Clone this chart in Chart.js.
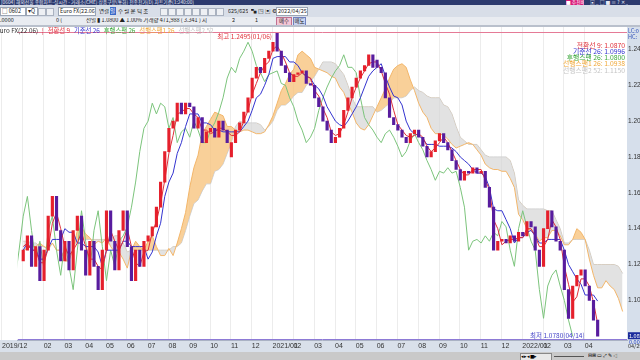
<!DOCTYPE html>
<html>
<head>
<meta charset="utf-8">
<script src="https://cdn.jsdelivr.net/npm/chart.js@4.4.0/dist/chart.umd.min.js"></script>
<style>
  html, body { margin: 0; padding: 0; background: #fff; }
  body { width: 640px; height: 360px; overflow: hidden; position: relative; font-family: 'Noto Sans CJK KR', 'Liberation Sans', sans-serif; }
  #chart { position: absolute; left: 0; top: 0; }
  .row { position: absolute; left: 0; width: 640px; overflow: hidden; white-space: nowrap; font-size: 5.5px; line-height: 1; }
  .row span { position: absolute; overflow: hidden; }
  #hdr1 { top: 0; height: 5px; background: #2c3a6e; color: #e6eaf6; font-size: 4.8px; }
  #hdr2 { top: 5px; height: 12px; background: #d8dee8; color: #222; }
  #hdr3 { top: 17px; height: 8px; background: #e9ecf1; color: #222; }
  #hdr4 { top: 25px; height: 2px; background: #b9c0cc; }
  #foot { top: 352px; height: 8px; background: #c9c9c9; }
  .box { background: #fff; border: 1px solid #9aa4b4; height: 7px; top: 2px; line-height: 7px; padding: 0 1px; }
  .btn { background: #eef0f4; border: 1px solid #aab2c0; height: 6px; top: 3px; width: 6px; }
</style>
</head>
<body>
<canvas id="chart" width="640" height="360"></canvas>

<div class="row" id="hdr1">
  <span style="left:1px;top:0">[0604] 해외선물 종합차트-실시간 - 거래소(CME) 상품구분(통화) 전종전가(D) 차트기준(1:240:00)</span>
  <span style="left:566px;top:0;width:18px;height:5px;background:#d81b7a;color:#fff">■ 추천배치</span>
  <span style="left:590px;top:0">▣ _ □ ■ ≡ ? ✕ _</span>
</div>
<div class="row" id="hdr2">
  <span class="box" style="left:0;width:22px">□ 0602</span>
  <span class="box" style="left:26px;width:8px">▾Q</span>
  <span class="btn" style="left:38px"></span>
  <span class="btn" style="left:46px"></span>
  <span class="box" style="left:58px;width:34px">Euro FX(22.06)</span>
  <span style="left:99px;top:4px">연결</span>
  <span style="left:110px;top:2px;width:6px;height:8px;background:#3a68c8;color:#fff;line-height:8px">일</span>
  <span style="left:118px;top:4px">주 월 분 틱 초</span>
  <span class="btn" style="left:160px"></span>
  <span class="btn" style="left:168px"></span>
  <span class="btn" style="left:176px"></span>
  <span class="btn" style="left:184px"></span>
  <span class="btn" style="left:192px"></span>
  <span class="btn" style="left:200px"></span>
  <span class="btn" style="left:208px"></span>
  <span class="btn" style="left:216px"></span>
  <span style="left:228px;top:4px">625/625</span>
  <span style="left:251px;top:4px">▚ ◳ ▣ ⚙</span>
  <span class="box" style="left:276px;width:28px">2022/04/25</span>
</div>
<div class="row" id="hdr3">
  <span style="left:0;top:1px">.0000</span>
  <span style="left:56px;top:1px">0 (</span>
  <span style="left:86px;top:1px">전일 ▮ 1.0800 ▲ 1.00% 거래량 471,988 ( 3.341 ) 시</span>
  <span style="left:232px;top:1px">2</span>
  <span style="left:255px;top:1px">1</span>
  <span style="left:276px;top:0;width:14px;height:7px;background:#f4c6d6;border:1px solid #c07090;text-align:center;line-height:7px">매수</span>
  <span style="left:293px;top:0;width:11px;height:7px;background:#c8d4f2;border:1px solid #7080c0;text-align:center;line-height:7px">매도</span>
</div>
<div class="row" id="hdr4"></div>
<div class="row" id="foot">
  <span style="left:520px;top:1px;width:30px;height:6px;background:#e8e8e8;border:1px solid #888;font-size:4.5px">◂▸◂■▸</span>
  <span style="left:554px;top:4px;width:30px;height:1px;background:#555"></span>
  <span style="left:588px;top:1px;font-size:4.5px">⊟⊞ ▭ ⤢ ✎ ◁</span>
</div>

<script>
// Euro FX(22.06) daily chart, one slot = about a week of trading days
const OPEN = [
  1.122, 1.128, 1.136, 1.119, 1.130, 1.111, 1.128, 1.147, 1.158, 1.139,
  1.122, 1.133, 1.117, 1.139, 1.147, 1.128, 1.114, 1.133, 1.119, 1.106,
  1.128, 1.150, 1.133, 1.117, 1.139, 1.150, 1.130, 1.111, 1.128, 1.119,
  1.133, 1.136, 1.141, 1.152, 1.166, 1.183, 1.196, 1.200, 1.210, 1.204,
  1.210, 1.208, 1.196, 1.202, 1.188, 1.194, 1.196, 1.191, 1.200, 1.195,
  1.180, 1.188, 1.195, 1.199, 1.205, 1.213, 1.224, 1.230, 1.227, 1.235,
  1.239, 1.249, 1.239, 1.231, 1.227, 1.222, 1.226, 1.227, 1.228, 1.221,
  1.220, 1.213, 1.208, 1.200, 1.195, 1.188, 1.191, 1.196, 1.206, 1.213,
  1.219, 1.224, 1.228, 1.231, 1.237, 1.234, 1.230, 1.227, 1.213, 1.202,
  1.198, 1.195, 1.191, 1.188, 1.193, 1.195, 1.191, 1.186, 1.180, 1.183,
  1.189, 1.193, 1.188, 1.184, 1.178, 1.173, 1.167, 1.172, 1.171, 1.174,
  1.171, 1.172, 1.163, 1.152, 1.128, 1.133, 1.134, 1.132, 1.136, 1.133,
  1.138, 1.136, 1.144, 1.141, 1.128, 1.119, 1.140, 1.150, 1.141, 1.133,
  1.128, 1.106, 1.090, 1.108, 1.114, 1.117, 1.108, 1.100, 1.089
];
const CLOSE = [
  1.128, 1.136, 1.119, 1.130, 1.111, 1.128, 1.147, 1.158, 1.139, 1.122,
  1.133, 1.117, 1.139, 1.147, 1.128, 1.114, 1.133, 1.119, 1.106, 1.128,
  1.150, 1.133, 1.117, 1.139, 1.150, 1.130, 1.111, 1.128, 1.119, 1.133,
  1.136, 1.141, 1.152, 1.166, 1.183, 1.196, 1.200, 1.210, 1.204, 1.210,
  1.208, 1.196, 1.202, 1.188, 1.194, 1.196, 1.191, 1.200, 1.195, 1.188,
  1.188, 1.195, 1.199, 1.205, 1.213, 1.224, 1.230, 1.227, 1.235, 1.239,
  1.244, 1.239, 1.231, 1.227, 1.222, 1.226, 1.227, 1.228, 1.221, 1.220,
  1.213, 1.208, 1.200, 1.195, 1.188, 1.191, 1.196, 1.206, 1.213, 1.219,
  1.224, 1.228, 1.231, 1.237, 1.230, 1.230, 1.227, 1.213, 1.202, 1.198,
  1.195, 1.191, 1.188, 1.193, 1.195, 1.191, 1.186, 1.180, 1.183, 1.189,
  1.193, 1.188, 1.184, 1.178, 1.173, 1.167, 1.172, 1.171, 1.174, 1.171,
  1.172, 1.163, 1.152, 1.128, 1.133, 1.134, 1.132, 1.136, 1.133, 1.138,
  1.136, 1.144, 1.141, 1.128, 1.119, 1.140, 1.150, 1.141, 1.133, 1.128,
  1.106, 1.090, 1.108, 1.114, 1.117, 1.108, 1.100, 1.089, 1.080
];
// 전환선 9
const TENKAN = [
  1.130, 1.132, 1.128, 1.128, 1.121, 1.121, 1.129, 1.143, 1.149, 1.140,
  1.130, 1.125, 1.128, 1.132, 1.138, 1.130, 1.123, 1.123, 1.119, 1.117,
  1.128, 1.139, 1.133, 1.128, 1.133, 1.140, 1.130, 1.121, 1.119, 1.127,
  1.128, 1.138, 1.144, 1.154, 1.167, 1.182, 1.192, 1.204, 1.205, 1.207,
  1.207, 1.204, 1.202, 1.195, 1.195, 1.193, 1.194, 1.196, 1.196, 1.194,
  1.192, 1.192, 1.194, 1.200, 1.206, 1.215, 1.221, 1.227, 1.231, 1.233,
  1.240, 1.242, 1.238, 1.233, 1.227, 1.225, 1.225, 1.227, 1.225, 1.224,
  1.217, 1.214, 1.207, 1.202, 1.194, 1.192, 1.193, 1.198, 1.205, 1.213,
  1.219, 1.224, 1.228, 1.232, 1.233, 1.233, 1.228, 1.221, 1.215, 1.206,
  1.198, 1.195, 1.192, 1.191, 1.192, 1.193, 1.191, 1.186, 1.183, 1.185,
  1.188, 1.191, 1.188, 1.183, 1.178, 1.173, 1.170, 1.170, 1.173, 1.173,
  1.173, 1.167, 1.162, 1.145, 1.140, 1.131, 1.133, 1.134, 1.134, 1.135,
  1.135, 1.140, 1.140, 1.136, 1.130, 1.130, 1.134, 1.145, 1.141, 1.134,
  1.119, 1.109, 1.099, 1.102, 1.112, 1.112, 1.108, 1.099, 1.087
];
// 기준선 26
const KIJUN = [
  1.128, 1.132, 1.128, 1.128, 1.123, 1.123, 1.129, 1.134, 1.134, 1.134,
  1.140, 1.138, 1.138, 1.132, 1.132, 1.130, 1.130, 1.130, 1.127, 1.119,
  1.128, 1.128, 1.128, 1.128, 1.133, 1.133, 1.130, 1.130, 1.130, 1.130,
  1.123, 1.127, 1.136, 1.143, 1.158, 1.166, 1.171, 1.182, 1.188, 1.197,
  1.204, 1.204, 1.204, 1.199, 1.199, 1.198, 1.195, 1.195, 1.194, 1.194,
  1.194, 1.194, 1.194, 1.197, 1.200, 1.206, 1.213, 1.215, 1.220, 1.226,
  1.235, 1.236, 1.236, 1.236, 1.233, 1.233, 1.231, 1.227, 1.225, 1.224,
  1.220, 1.218, 1.214, 1.208, 1.204, 1.200, 1.198, 1.197, 1.200, 1.204,
  1.208, 1.213, 1.219, 1.225, 1.228, 1.230, 1.232, 1.225, 1.219, 1.214,
  1.213, 1.209, 1.200, 1.195, 1.193, 1.192, 1.190, 1.187, 1.187, 1.187,
  1.186, 1.186, 1.186, 1.185, 1.183, 1.180, 1.178, 1.176, 1.173, 1.171,
  1.171, 1.169, 1.163, 1.151, 1.150, 1.150, 1.145, 1.140, 1.132, 1.135,
  1.135, 1.138, 1.139, 1.136, 1.132, 1.132, 1.134, 1.134, 1.134, 1.134,
  1.128, 1.120, 1.116, 1.112, 1.109, 1.103, 1.103, 1.103, 1.0996
];
// 선행스팬1 26 / 선행스팬2 52, already shifted 26 days ahead (6 slots past the last candle)
const SPAN1 = [
  1.128, 1.129, 1.130, 1.130, 1.132, 1.130, 1.129, 1.132, 1.128, 1.128,
  1.122, 1.122, 1.129, 1.139, 1.141, 1.137, 1.135, 1.131, 1.133, 1.132,
  1.135, 1.130, 1.127, 1.127, 1.123, 1.118, 1.128, 1.133, 1.130, 1.128,
  1.133, 1.136, 1.130, 1.125, 1.125, 1.129, 1.125, 1.132, 1.140, 1.149,
  1.163, 1.174, 1.181, 1.193, 1.197, 1.201, 1.205, 1.204, 1.203, 1.197,
  1.197, 1.195, 1.194, 1.195, 1.195, 1.194, 1.193, 1.193, 1.194, 1.198,
  1.203, 1.210, 1.217, 1.221, 1.226, 1.229, 1.237, 1.239, 1.237, 1.235,
  1.230, 1.229, 1.228, 1.227, 1.225, 1.224, 1.219, 1.216, 1.210, 1.205,
  1.199, 1.196, 1.195, 1.198, 1.203, 1.208, 1.213, 1.218, 1.224, 1.229,
  1.231, 1.232, 1.230, 1.223, 1.217, 1.210, 1.205, 1.202, 1.196, 1.193,
  1.193, 1.192, 1.190, 1.187, 1.185, 1.186, 1.187, 1.188, 1.187, 1.184,
  1.181, 1.176, 1.174, 1.173, 1.173, 1.172, 1.172, 1.168, 1.163, 1.148,
  1.145, 1.140, 1.139, 1.137, 1.133, 1.135, 1.135, 1.139, 1.139, 1.136,
  1.131, 1.131, 1.134, 1.140, 1.138, 1.134, 1.123, 1.114, 1.107, 1.107,
  1.111, 1.108, 1.106, 1.101, 1.0938
];
const SPAN2 = [
  1.133, 1.133, 1.132, 1.132, 1.130, 1.130, 1.128, 1.132, 1.128, 1.128,
  1.123, 1.123, 1.129, 1.134, 1.134, 1.134, 1.134, 1.134, 1.134, 1.134,
  1.134, 1.134, 1.136, 1.136, 1.132, 1.127, 1.128, 1.128, 1.128, 1.128,
  1.128, 1.128, 1.128, 1.128, 1.128, 1.128, 1.130, 1.130, 1.132, 1.139,
  1.147, 1.154, 1.156, 1.161, 1.165, 1.165, 1.172, 1.173, 1.176, 1.182,
  1.188, 1.197, 1.200, 1.199, 1.199, 1.199, 1.199, 1.198, 1.195, 1.197,
  1.200, 1.206, 1.209, 1.209, 1.211, 1.214, 1.216, 1.216, 1.220, 1.222,
  1.225, 1.229, 1.233, 1.233, 1.233, 1.232, 1.229, 1.226, 1.220, 1.213,
  1.208, 1.208, 1.208, 1.208, 1.208, 1.205, 1.206, 1.208, 1.210, 1.213,
  1.213, 1.213, 1.214, 1.217, 1.219, 1.217, 1.216, 1.214, 1.213, 1.213,
  1.213, 1.209, 1.208, 1.204, 1.197, 1.191, 1.189, 1.187, 1.187, 1.187,
  1.184, 1.181, 1.180, 1.180, 1.180, 1.180, 1.180, 1.178, 1.171, 1.156,
  1.153, 1.151, 1.151, 1.151, 1.151, 1.151, 1.150, 1.150, 1.145, 1.140,
  1.132, 1.132, 1.134, 1.134, 1.134, 1.134, 1.128, 1.120, 1.120, 1.120,
  1.120, 1.120, 1.120, 1.119, 1.115
];
const CHIKOU_LAG = 6;

// first slot of each month on the x axis
const MONTH_SLOTS = [-5, 0, 5, 10, 15, 20, 25, 30, 35, 40, 45, 50, 55, 60, 65, 70, 75, 80,
  85, 90, 95, 100, 105, 110, 115, 120, 125, 130, 135];
const MONTH_LABELS = ['2019/12', '', '02', '03', '04', '05', '06', '07', '08', '09', '10', '11', '12',
  '2021/01', '02', '03', '04', '05', '06', '07', '08', '09', '10', '11', '12',
  '2022/01', '02', '03', '04'];
const Y_TICKS = [1.10, 1.12, 1.14, 1.16, 1.18, 1.20, 1.22, 1.24];

const MAX_PRICE = 1.2495;
const MIN_PRICE = 1.0780;
const MAX_SLOT = 60;
const MIN_SLOT = 138;

const UP_COLOR = '#e5202c';
const DOWN_COLOR = '#581c9e';

const LEGEND = [
  ['Euro FX(22.06)', '#333333'],
  ['¦', '#d02030'],
  ['전환선 9', '#e0303a'],
  ['기준선 26', '#3434d0'],
  ['후행스팬 26', '#3aa83a'],
  ['선행스팬1 26', '#f0a838'],
  ['선행스팬2 52', '#c4c4c4']
];
const READOUT = [
  ['전환선 9: 1.0870', '#e0303a'],
  ['기준선 26: 1.0996', '#3434d0'],
  ['후행스팬 26: 1.0800', '#3aa83a'],
  ['선행스팬1 26: 1.0938', '#f0a838'],
  ['선행스팬2 52: 1.1150', '#c4c4c4']
];

const FONT = '"Noto Sans CJK KR", "Liberation Sans", sans-serif';

const panelPlugin = {
    id: 'panel',
    beforeDraw(chart) {
        const { ctx, chartArea: a } = chart;
        ctx.save();
        ctx.fillStyle = '#ffffff';
        ctx.fillRect(0, 0, chart.width, chart.height);
        ctx.fillStyle = '#d6dfeb';
        ctx.fillRect(a.right, a.top, chart.width - a.right, a.bottom - a.top);
        ctx.fillStyle = '#d9e0ea';
        ctx.fillRect(0, a.bottom, chart.width, 12);
        ctx.restore();
    },
    afterDraw(chart) {
        const { ctx, chartArea: a, scales: { x, y } } = chart;
        ctx.save();

        // highest / lowest marker lines
        const yMax = Math.round(y.getPixelForValue(MAX_PRICE)) + 0.5;
        const yMin = Math.round(y.getPixelForValue(MIN_PRICE)) - 0.5;
        ctx.lineWidth = 1;
        ctx.strokeStyle = '#e57a96';
        ctx.beginPath();
        ctx.moveTo(a.left, yMax);
        ctx.lineTo(a.right, yMax);
        ctx.stroke();
        ctx.strokeStyle = '#8d7ad6';
        ctx.beginPath();
        ctx.moveTo(a.left, yMin);
        ctx.lineTo(a.right, yMin);
        ctx.stroke();

        ctx.font = '6.5px ' + FONT;
        ctx.textAlign = 'right';
        ctx.textBaseline = 'top';
        ctx.fillStyle = '#e0303a';
        ctx.fillText('최고 1.2495(01/06)', x.getPixelForValue(MAX_SLOT) - 1, yMax + 1);
        ctx.textBaseline = 'bottom';
        ctx.fillStyle = '#4444c8';
        ctx.fillText('최저 1.0780(04/14)', x.getPixelForValue(MIN_SLOT) - 13, yMin - 1);

        // legend line
        ctx.font = '6.3px ' + FONT;
        ctx.textAlign = 'left';
        ctx.textBaseline = 'middle';
        let px = -4;
        LEGEND.forEach(([text, color]) => {
            ctx.fillStyle = color;
            ctx.fillText(text, px, a.top + 3.5);
            px += ctx.measureText(text).width + 4;
        });

        // current values, top right
        ctx.font = '6.8px ' + FONT;
        ctx.textAlign = 'right';
        READOUT.forEach(([text, color], i) => {
            ctx.fillStyle = color;
            ctx.fillText(text, a.right - 2, a.top + 18 + i * 6.3);
        });

        // price axis extras
        ctx.font = '5.5px ' + FONT;
        ctx.textAlign = 'left';
        ctx.fillStyle = '#3050b8';
        ctx.fillText('LC:0', a.right + 1, a.top + 4);
        ctx.fillText('HC:', a.right + 1, a.top + 10);
        const yLast = y.getPixelForValue(CLOSE[CLOSE.length - 1]);
        ctx.fillStyle = '#1c2c9c';
        ctx.fillRect(a.right + 1, yLast - 4, chart.width - a.right - 1, 7);
        ctx.fillStyle = '#ffffff';
        ctx.fillText('1.080', a.right + 2, yLast - 0.5);
        ctx.fillStyle = '#2040c0';
        ctx.fillText('0.000', a.right + 2, yLast + 6);
        ctx.fillStyle = '#333';
        ctx.fillText('04/25', a.right + 1, a.bottom + 6);
        ctx.restore();
    }
};

const xy = (arr, shift) => arr.map((v, i) => ({ x: i + shift, y: v }));

new Chart(document.getElementById('chart'), {
    type: 'line',
    data: {
        datasets: [
            {
                type: 'bar',
                label: 'Euro FX(22.06)',
                data: CLOSE.map((c, i) => ({ x: i, y: [OPEN[i], c] })),
                backgroundColor: CLOSE.map((c, i) => (c >= OPEN[i] ? UP_COLOR : DOWN_COLOR)),
                borderWidth: 0,
                barThickness: 2.5,
                order: 0
            },
            {
                label: '전환선 9',
                data: xy(TENKAN, 0),
                borderColor: '#e0303a',
                borderWidth: 1,
                pointRadius: 0,
                order: 1
            },
            {
                label: '기준선 26',
                data: xy(KIJUN, 0),
                borderColor: '#3434d0',
                borderWidth: 1,
                pointRadius: 0,
                order: 2
            },
            {
                label: '후행스팬 26',
                data: xy(CLOSE, -CHIKOU_LAG),
                borderColor: '#7cc47c',
                borderWidth: 1,
                pointRadius: 0,
                order: 3
            },
            {
                label: '선행스팬1 26',
                data: xy(SPAN1, 0),
                borderColor: '#f3b66a',
                borderWidth: 1,
                pointRadius: 0,
                fill: { target: '+1', above: 'rgba(248, 196, 128, 0.8)', below: 'rgba(214, 214, 214, 0.7)' },
                order: 5
            },
            {
                label: '선행스팬2 52',
                data: xy(SPAN2, 0),
                borderColor: '#cfcfcf',
                borderWidth: 1,
                pointRadius: 0,
                order: 6
            }
        ]
    },
    options: {
        responsive: false,
        animation: false,
        events: [],
        layout: { padding: { top: 27, bottom: 8, left: 0, right: 0 } },
        plugins: {
            legend: { display: false },
            tooltip: { enabled: false }
        },
        scales: {
            x: {
                type: 'linear',
                min: -1.307,
                max: 145.05,
                offset: false,
                afterFit: (s) => { s.height = 12; },
                afterBuildTicks: (s) => { s.ticks = MONTH_SLOTS.map(v => ({ value: v - 0.1 })); },
                ticks: {
                    autoSkip: false,
                    maxRotation: 0,
                    align: 'start',
                    padding: 2,
                    color: '#333',
                    font: { size: 7, family: 'Liberation Sans' },
                    callback: (value, index) => MONTH_LABELS[index]
                },
                grid: { color: '#ececec', drawTicks: false, offset: false },
                border: { display: true, color: '#aab2c4' }
            },
            y: {
                position: 'right',
                min: 1.0779,
                max: 1.2525,
                afterFit: (s) => { s.width = 13; },
                afterBuildTicks: (s) => { s.ticks = Y_TICKS.map(v => ({ value: v })); },
                ticks: {
                    crossAlign: 'near',
                    padding: 1,
                    color: '#333',
                    font: { size: 6.5, family: 'Liberation Sans' },
                    callback: (value) => value.toFixed(3)
                },
                grid: { display: false, drawTicks: false },
                border: { display: false }
            }
        }
    },
    plugins: [panelPlugin]
});
</script>
</body>
</html>
